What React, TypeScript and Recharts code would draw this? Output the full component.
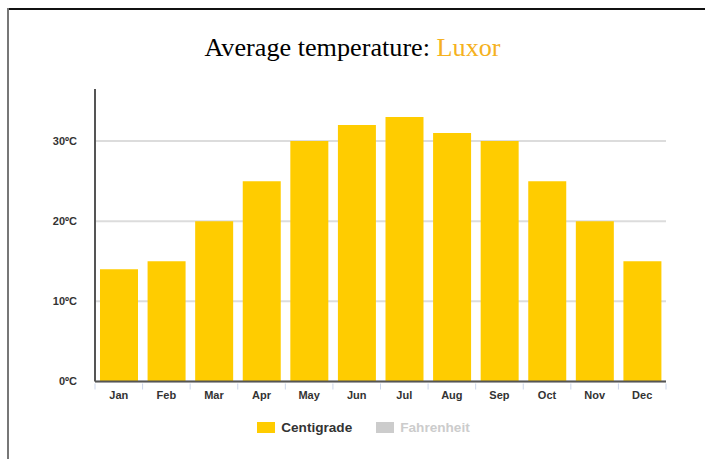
import { BarChart, Bar, XAxis, YAxis, CartesianGrid } from "recharts";

const months = ["Jan", "Feb", "Mar", "Apr", "May", "Jun", "Jul", "Aug", "Sep", "Oct", "Nov", "Dec"];
const centigrade = [14, 15, 20, 25, 30, 32, 33, 31, 30, 25, 20, 15];
const yTicks = [0, 10, 20, 30];

const data = months.map((month, i) => ({ month, centigrade: centigrade[i] }));

const PLOT_LEFT = 95;
const PLOT_RIGHT = 666;
const BAND = (PLOT_RIGHT - PLOT_LEFT) / months.length;

// month label plus the small separator ticks between categories
function MonthTick(props: any) {
  const { x, y, payload, index } = props;
  return (
    <g>
      <line x1={x - BAND / 2} x2={x - BAND / 2} y1={y} y2={y + 6} stroke="#ccd6eb" strokeWidth={1} />
      {index === months.length - 1 && (
        <line x1={x + BAND / 2} x2={x + BAND / 2} y1={y} y2={y + 6} stroke="#ccd6eb" strokeWidth={1} />
      )}
      <text x={x} y={y + 15} textAnchor="middle" fontSize={11} fontWeight={600} fill="#333">
        {payload.value}
      </text>
    </g>
  );
}

export default function App() {
  return (
    <div
      style={{
        position: "fixed",
        left: 0,
        top: 0,
        width: 705,
        height: 459,
        background: "#fff",
        fontFamily: "'Liberation Sans', Arial, sans-serif",
        overflow: "hidden",
      }}
    >
      <div style={{ position: "absolute", left: 7, top: 8, right: 0, height: 2, background: "#111" }} />
      <div style={{ position: "absolute", left: 7, top: 8, bottom: 0, width: 2, background: "#777" }} />

      <div
        style={{
          position: "absolute",
          left: 0,
          width: 705,
          top: 33,
          textAlign: "center",
          fontFamily: "'Liberation Serif', 'Times New Roman', serif",
          fontSize: 26.2,
          color: "#000",
          paddingLeft: 0,
        }}
      >
        Average temperature: <span style={{ color: "#f5b120" }}>Luxor</span>
      </div>

      <div style={{ position: "absolute", left: 0, top: 0 }}>
        <BarChart
          width={705}
          height={459}
          data={data}
          margin={{ top: 89, right: 705 - PLOT_RIGHT, bottom: 47.5, left: 35 }}
          barCategoryGap="10.5%"
        >
          <CartesianGrid vertical={false} horizontalValues={yTicks} stroke="#dcdcdc" strokeWidth={2} />
          <XAxis
            dataKey="month"
            height={30}
            axisLine={{ stroke: "#555", strokeWidth: 2 }}
            tickLine={false}
            tickSize={0}
            tick={<MonthTick />}
            interval={0}
          />
          <YAxis
            width={60}
            domain={[0, 36.5]}
            ticks={yTicks}
            allowDataOverflow
            axisLine={{ stroke: "#555", strokeWidth: 2 }}
            tickLine={false}
            tickSize={0}
            tickMargin={18}
            tickFormatter={(v: number) => `${v}ºC`}
            tick={{ fontSize: 11, fontWeight: 600, fill: "#333" }}
          />
          <Bar dataKey="centigrade" fill="#ffcc00" isAnimationActive={false} />
        </BarChart>
      </div>

      <div
        style={{
          position: "absolute",
          top: 420,
          left: 0,
          width: 705,
          display: "flex",
          justifyContent: "center",
          alignItems: "center",
          fontSize: 13.6,
          fontWeight: 700,
          paddingLeft: 11,
        }}
      >
        <span style={{ display: "inline-block", width: 18, height: 11, background: "#ffcc00", marginRight: 6 }} />
        <span style={{ color: "#333", marginRight: 24 }}>Centigrade</span>
        <span style={{ display: "inline-block", width: 18, height: 11, background: "#cccccc", marginRight: 6 }} />
        <span style={{ color: "#cccccc" }}>Fahrenheit</span>
      </div>
    </div>
  );
}
